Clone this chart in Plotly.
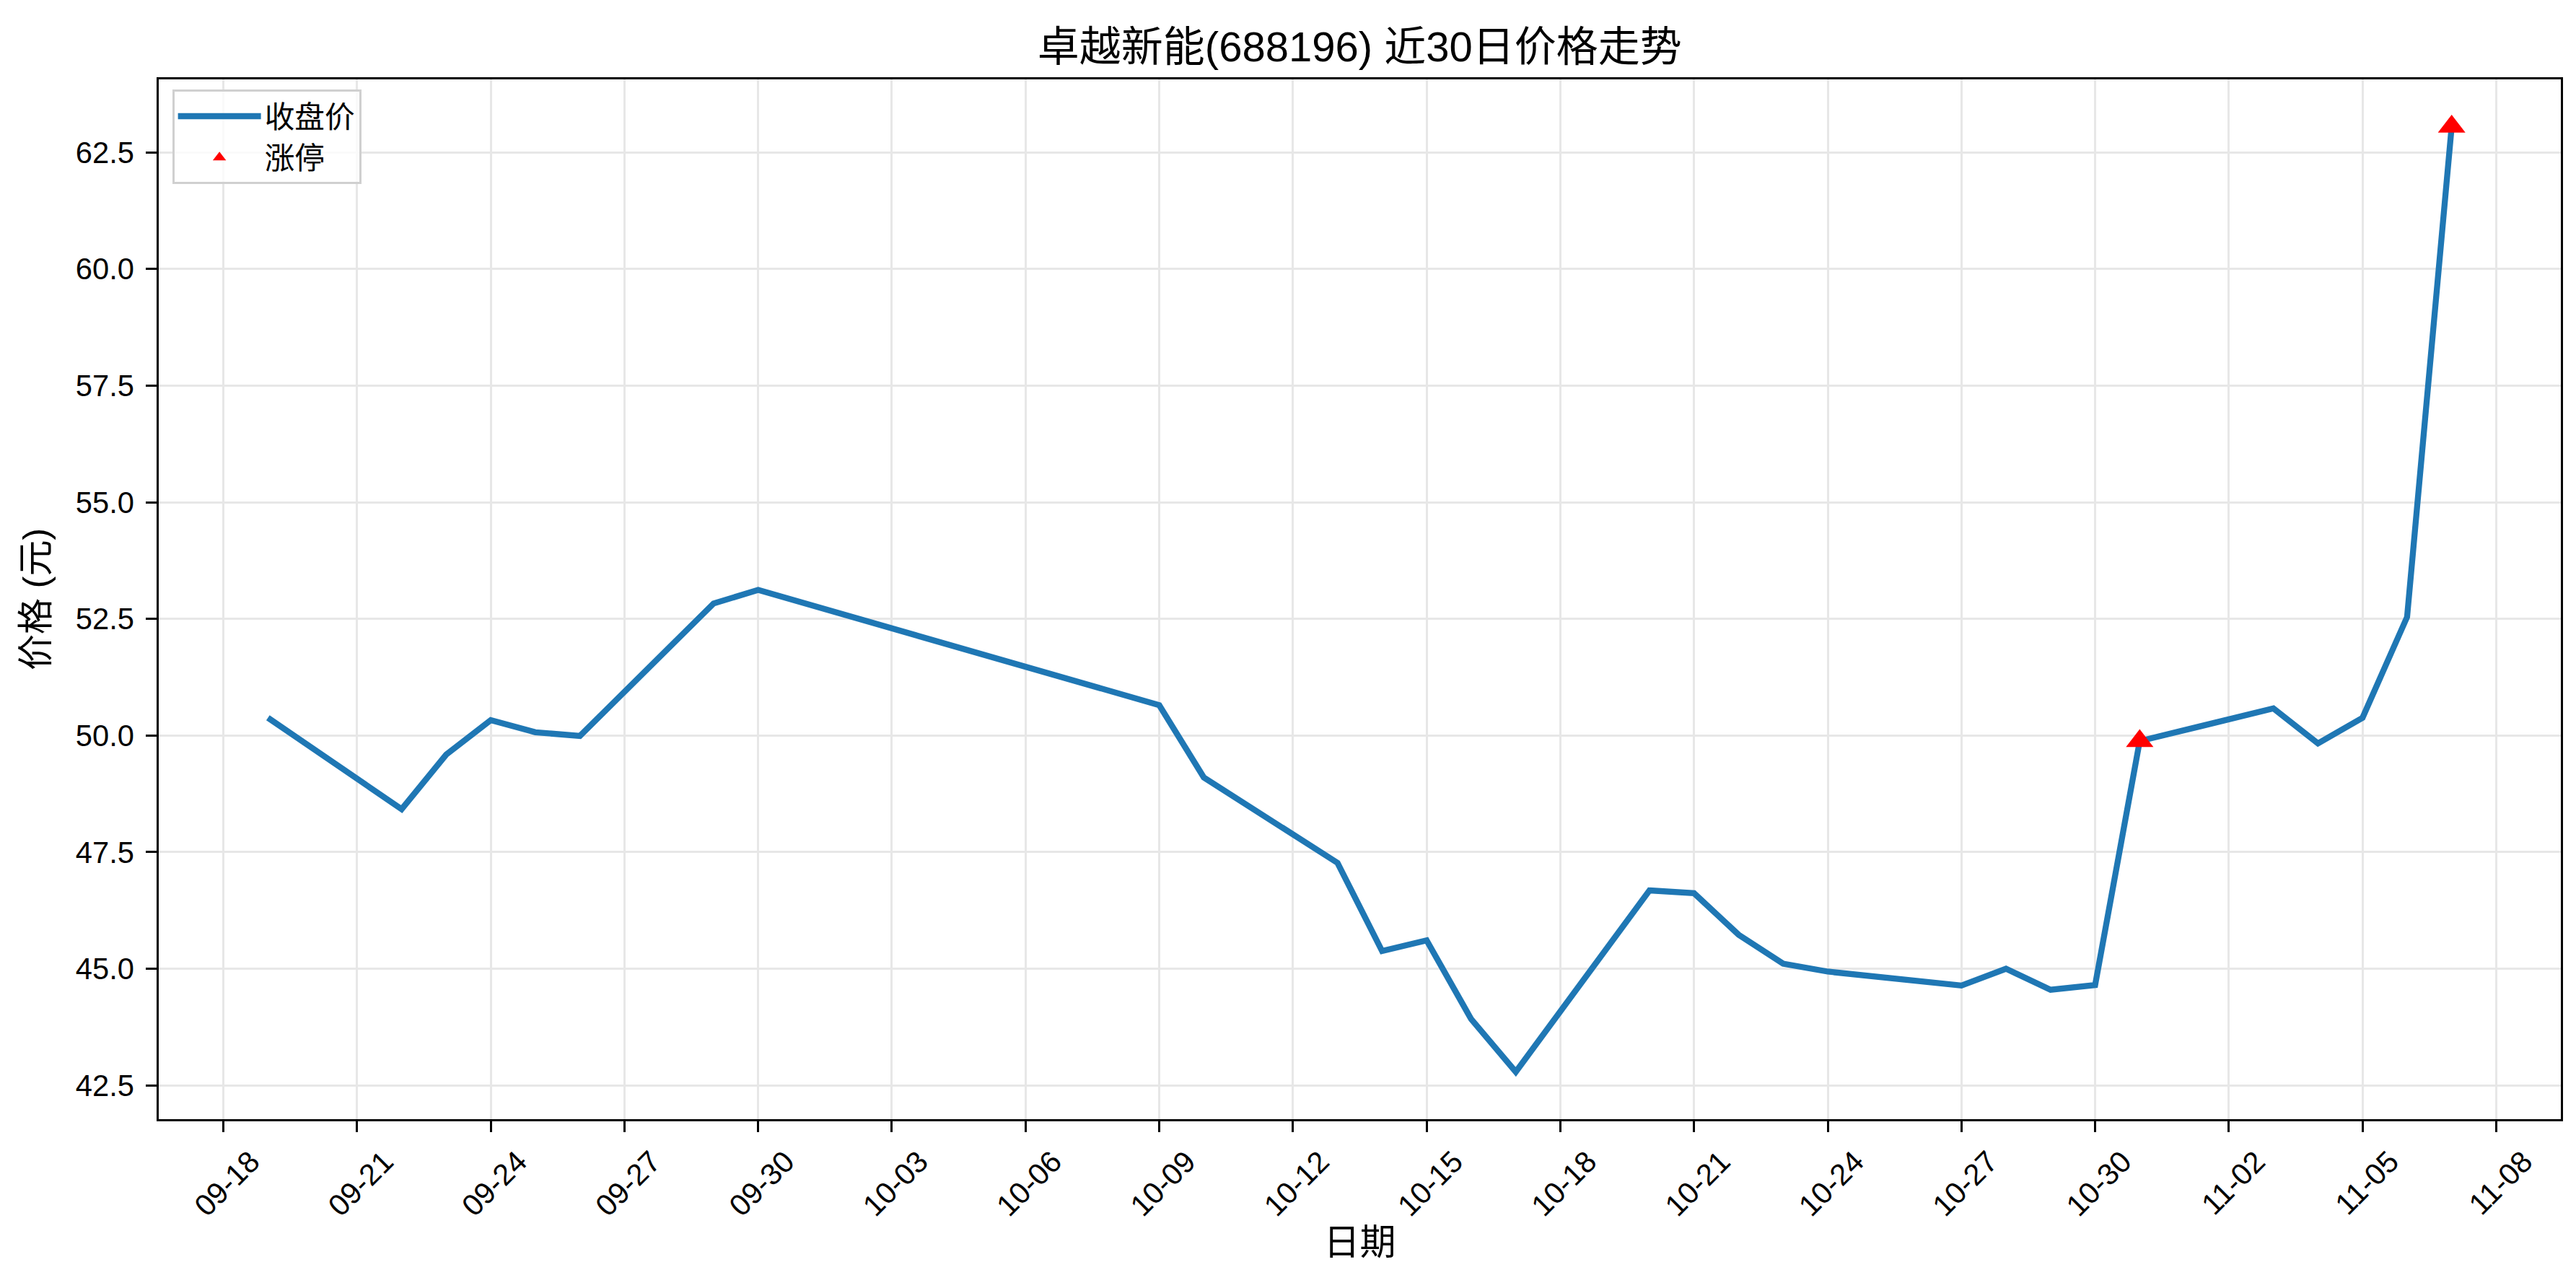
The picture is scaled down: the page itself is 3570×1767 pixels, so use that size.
import pandas as pd
import plotly.graph_objects as go

# ---- data ----
dates = ['2025-09-19', '2025-09-22', '2025-09-23', '2025-09-24', '2025-09-25', '2025-09-26',
         '2025-09-29', '2025-09-30', '2025-10-09', '2025-10-10', '2025-10-13', '2025-10-14',
         '2025-10-15', '2025-10-16', '2025-10-17', '2025-10-20', '2025-10-21', '2025-10-22',
         '2025-10-23', '2025-10-24', '2025-10-27', '2025-10-28', '2025-10-29', '2025-10-30',
         '2025-10-31', '2025-11-03', '2025-11-04', '2025-11-05', '2025-11-06', '2025-11-07']
close = [50.38, 48.42, 49.59, 50.33, 50.07, 49.99,
         52.83, 53.12, 50.65, 49.10, 47.27, 45.38,
         45.61, 43.92, 42.79, 46.68, 46.62, 45.73,
         45.11, 44.94, 44.64, 45.00, 44.55, 44.65,
         49.88, 50.58, 49.83, 50.38, 52.54, 63.05]
limit_dates = ['2025-10-31', '2025-11-07']
limit_prices = [49.88, 63.05]
ytick_vals = [42.5, 45.0, 47.5, 50.0, 52.5, 55.0, 57.5, 60.0, 62.5]

title_text = '卓越新能(688196) 近30日价格走势'
xlabel = '日期'
ylabel = '价格 (元)'
series_names = ['收盘价', '涨停']

# ---- styling ----
FONT = 'Liberation Sans, Arial, Noto Sans CJK SC, sans-serif'
W, H = 3570, 1767
L, R, T, B = 211.5, 29, 102, 224
GRID = '#e7e7e7'

d = pd.to_datetime(dates)
span = d.max() - d.min()
xr = [d.min() - 0.05 * span, d.max() + 0.05 * span]
ymin, ymax = min(close), max(close)
yr = [ymin - 0.05 * (ymax - ymin), ymax + 0.05 * (ymax - ymin)]

fig = go.Figure()
fig.add_trace(go.Scatter(x=d, y=close, mode='lines', name=series_names[0],
                         line=dict(color='#1f77b4', width=8.3)))
fig.add_trace(go.Scatter(x=pd.to_datetime(limit_dates), y=limit_prices, mode='markers',
                         name=series_names[1],
                         marker=dict(symbol='triangle-up', color='red', size=33, line=dict(width=0))))

axis_common = dict(showline=True, linecolor='black', linewidth=3.3, mirror=True,
                   ticks='outside', ticklen=14.6, tickwidth=3.3, tickcolor='black',
                   showgrid=True, gridcolor=GRID, gridwidth=3.3, zeroline=False,
                   tickfont=dict(family=FONT, size=41.7, color='black'))

fig.update_xaxes(type='date', range=xr, tick0='2025-09-18', dtick=3 * 86400000,
                 tickformat='%m-%d', tickangle=-45, automargin=False,
                 ticklabelshift=38,
                 title=dict(text=xlabel, font=dict(family=FONT, size=50, color='black'), standoff=2),
                 **axis_common)
fig.update_yaxes(range=yr, tickvals=ytick_vals, tickformat='.1f', automargin=False,
                 title=dict(text=ylabel, font=dict(family=FONT, size=50, color='black'), standoff=22),
                 ticklabelstandoff=8,
                 **axis_common)

fig.update_layout(
    width=W, height=H,
    margin=dict(l=L, r=R, t=T, b=B, pad=0),
    paper_bgcolor='white', plot_bgcolor='white',
    title=dict(text=title_text, x=(L + (W - L - R) / 2) / W, xanchor='center',
               y=1 - 57 / H, yanchor='middle',
               font=dict(family=FONT, size=58, color='black')),
    font=dict(family=FONT, color='black'),
    showlegend=True,
    legend=dict(x=0.0056, y=0.99, xanchor='left', yanchor='top',
                bgcolor='rgba(255,255,255,0.8)', bordercolor='#d0d0d0', borderwidth=3,
                font=dict(family=FONT, size=41.7, color='black'),
                itemsizing='trace', itemwidth=115),
)

fig.write_html('out.html')
